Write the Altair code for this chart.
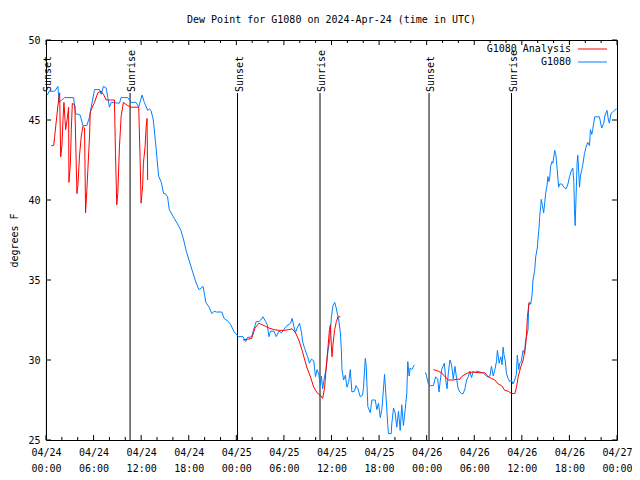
import altair as alt
import pandas as pd

TITLE = "Dew Point for G1080 on 2024-Apr-24 (time in UTC)"
FONT = "DejaVu Sans Mono"

# time = hours since 2024-04-24 00:00 UTC, value = dew point (deg F)
obs_part1 = [
    (0.18, 46.56), (0.38, 46.8), (1.09, 46.8), (1.51, 47.1), (1.63, 46.1), (2.10, 46.3), (2.35, 46.4),
    (3.48, 46.4), (3.73, 45.4), (4.32, 45.3), (4.65, 44.65), (5.15, 44.65), (5.49, 45.2), (5.70, 45.8),
    (6.12, 46.9), (6.75, 46.9), (6.96, 46.6), (7.25, 47.1), (7.59, 47.0), (7.79, 46.4), (8.00, 45.8),
    (8.22, 46.1), (9.26, 46.05), (9.47, 46.4), (10.30, 46.4), (10.73, 46.1), (11.36, 46.1), (11.69, 45.8),
    (12.11, 46.56), (12.40, 46.1), (12.82, 45.6), (13.03, 45.7), (13.24, 45.6), (13.53, 45.0), (13.87, 43.3),
    (14.20, 41.5), (14.54, 41.1), (14.83, 40.4), (15.04, 40.4), (15.33, 40.2), (15.54, 39.4), (16.17, 38.85),
    (16.59, 38.5), (17.01, 38.1), (17.31, 37.6), (17.69, 36.8), (18.06, 36.2), (18.43, 35.6), (18.81, 35.0),
    (19.19, 34.5), (19.31, 34.4), (19.81, 34.6), (20.16, 33.6), (20.57, 33.3), (20.91, 32.9), (21.20, 33.05),
    (21.49, 33.0), (22.17, 33.0), (22.46, 32.6), (23.00, 32.4), (23.30, 32.2), (23.71, 31.77), (24.25, 31.46),
    (24.84, 31.46), (25.18, 31.15), (25.38, 31.4), (25.94, 31.46), (26.10, 31.77), (26.51, 32.4), (26.85, 32.4),
    (27.07, 32.5), (27.36, 32.7), (27.70, 32.4), (27.90, 32.2), (28.11, 31.46), (28.32, 31.8), (28.74, 31.8),
    (29.03, 31.46), (29.37, 31.8), (29.71, 31.7), (30.00, 31.9), (30.28, 32.1), (30.84, 32.3), (31.04, 32.6),
    (31.25, 32.1), (31.46, 31.7), (31.66, 32.0), (31.97, 32.3), (32.22, 31.7), (32.38, 31.1), (32.63, 30.7),
    (32.92, 30.3), (33.22, 29.8), (33.47, 30.05), (33.76, 29.95), (33.98, 28.95), (34.18, 29.4), (34.39, 29.1),
    (34.60, 28.4), (34.73, 29.0), (34.89, 28.2), (35.14, 29.0), (35.31, 29.4), (35.56, 30.6), (35.78, 31.25),
    (35.99, 32.7), (36.19, 33.4), (36.40, 33.6), (36.57, 33.3), (36.82, 32.7), (36.91, 32.5), (37.12, 31.7),
    (37.25, 30.6), (37.32, 29.4), (37.53, 28.75), (37.75, 29.05), (37.95, 28.3), (38.16, 28.6), (38.37, 29.4),
    (38.57, 28.0), (38.91, 28.05), (39.08, 28.4), (39.33, 28.2), (39.63, 27.7), (39.92, 27.8), (40.04, 28.3),
    (40.26, 30.1), (40.38, 29.6), (40.58, 27.1), (40.89, 26.7), (41.09, 27.5), (41.52, 27.5), (41.72, 26.9),
    (41.93, 27.3), (42.15, 26.4), (42.35, 26.9), (42.69, 29.1), (42.90, 27.5), (43.10, 25.9), (43.19, 25.4),
    (43.53, 25.4), (43.60, 26.0), (43.82, 27.0), (44.03, 26.7), (44.23, 25.8), (44.45, 26.8), (44.66, 25.6),
    (44.86, 27.2), (45.07, 25.9), (45.29, 26.9), (45.49, 27.9), (45.62, 29.9), (45.79, 29.0), (45.92, 29.5),
    (46.12, 29.4), (46.46, 29.7),
]
obs_part2 = [
    (47.80, 29.2), (47.88, 29.2), (48.22, 28.5), (48.47, 28.4), (48.85, 28.4), (49.13, 28.95), (49.39, 28.8),
    (49.56, 28.0), (49.69, 28.6), (49.89, 29.4), (50.23, 29.8), (50.44, 28.6), (50.57, 28.2), (50.73, 29.2),
    (50.94, 30.0), (51.14, 29.7), (51.36, 28.8), (51.57, 29.6), (51.77, 28.85), (51.98, 28.2), (52.19, 28.0),
    (52.40, 27.9), (52.61, 27.9), (52.83, 28.2), (53.03, 28.75), (53.24, 28.95), (53.45, 29.3), (53.66, 28.9),
    (53.87, 29.3), (54.08, 29.2), (54.28, 29.3), (54.71, 29.25), (55.13, 29.2), (55.54, 29.0), (55.76, 28.95),
    (55.97, 29.0), (56.17, 29.6), (56.39, 29.0), (56.60, 29.4), (56.80, 29.9), (56.92, 30.6), (57.14, 29.8),
    (57.35, 30.2), (57.51, 29.7), (57.64, 30.8), (57.76, 30.3), (57.93, 29.9), (58.05, 29.2), (58.26, 28.85),
    (58.48, 28.65), (58.68, 28.75), (58.89, 28.5), (59.10, 28.75), (59.31, 29.1), (59.43, 30.3), (59.61, 29.4),
    (59.73, 29.8), (59.93, 29.9), (60.15, 30.6), (60.36, 30.4), (60.44, 31.1), (60.61, 31.5), (60.78, 31.9),
    (60.87, 33.5), (61.12, 33.5), (61.28, 34.0), (61.41, 35.0), (61.62, 35.6), (61.75, 36.45), (61.95, 37.0),
    (62.04, 37.56), (62.16, 38.2), (62.25, 38.96), (62.38, 39.6), (62.45, 40.04), (62.58, 39.7), (62.75, 39.2),
    (62.88, 39.8), (63.00, 40.4), (63.17, 40.9), (63.29, 41.46), (63.42, 41.15), (63.51, 41.35), (63.63, 42.1),
    (63.80, 42.4), (63.92, 42.3), (64.14, 43.1), (64.26, 42.9), (64.34, 42.6), (64.46, 41.9), (64.64, 40.8),
    (64.76, 41.0), (65.05, 41.0), (65.30, 40.8), (65.59, 40.7), (65.81, 41.0), (66.02, 41.46), (66.22, 41.8),
    (66.43, 42.0), (66.56, 41.1), (66.64, 39.4), (66.72, 38.4), (66.84, 40.2), (66.97, 42.3), (67.05, 42.8),
    (67.14, 42.1), (67.27, 40.8), (67.39, 41.5), (67.56, 41.9), (67.68, 42.2), (67.90, 42.9), (68.10, 43.3),
    (68.31, 43.6), (68.53, 43.4), (68.65, 44.4), (68.82, 44.1), (68.94, 44.4), (69.19, 45.2), (69.78, 45.2),
    (70.07, 44.5), (70.33, 44.8), (70.49, 45.3), (70.74, 45.6), (70.92, 45.0), (71.04, 44.8), (71.24, 45.4),
    (71.46, 45.5), (71.67, 45.6), (71.96, 45.7),
]
ana_night1 = [
    (0.68, 43.4), (0.97, 43.4), (1.09, 43.96), (1.31, 45.0), (1.51, 45.94), (1.72, 46.7), (1.85, 42.7),
    (2.01, 43.4), (2.14, 45.0), (2.26, 46.1), (2.48, 44.4), (2.69, 45.1), (2.85, 45.8), (2.89, 41.1),
    (3.07, 42.2), (3.19, 44.4), (3.32, 46.04), (3.48, 46.0), (3.64, 45.9), (3.90, 40.4), (4.02, 40.9),
    (4.23, 42.8), (4.45, 44.0), (4.65, 44.6), (4.86, 44.5), (4.99, 39.2), (5.15, 40.6), (5.28, 41.9),
    (5.49, 44.0), (5.58, 45.5), (5.83, 45.8), (6.12, 46.1), (6.53, 46.7), (6.96, 46.8), (7.25, 46.6),
    (7.59, 46.25), (8.00, 46.25), (8.63, 46.25), (8.76, 42.9), (8.92, 39.7), (9.05, 40.4), (9.26, 43.3),
    (9.47, 45.2), (9.76, 46.1), (10.30, 45.9), (10.73, 45.8), (11.36, 45.8), (11.69, 45.8), (11.86, 42.7),
    (11.99, 39.8), (12.19, 40.9), (12.28, 42.3), (12.49, 43.3), (12.62, 44.5), (12.74, 45.1), (12.82, 41.25),
]
ana_night2 = [
    (24.84, 31.25), (25.38, 31.3), (25.94, 31.35), (26.35, 32.0), (26.85, 32.3), (27.27, 32.2), (27.70, 32.1),
    (28.11, 32.0), (28.74, 31.9), (29.37, 31.85), (30.00, 31.85), (30.63, 31.9), (31.04, 31.95), (31.46, 31.7),
    (31.88, 31.25), (32.30, 30.6), (32.63, 30.0), (32.92, 29.5), (33.34, 28.95), (33.76, 28.3), (34.18, 27.95),
    (34.60, 27.8), (34.89, 27.6), (35.14, 28.3), (35.31, 29.4), (35.56, 30.8), (35.74, 31.9), (35.86, 32.2),
    (35.99, 30.8), (36.07, 30.2), (36.19, 31.0), (36.40, 31.9), (36.61, 32.4), (36.82, 32.7), (37.12, 32.7),
]
ana_night3 = [
    (48.85, 29.4), (49.47, 29.3), (49.89, 29.2), (50.31, 28.95), (50.73, 28.75), (51.36, 28.75), (51.77, 28.8),
    (52.19, 28.8), (52.40, 28.95), (52.83, 29.1), (53.24, 29.2), (53.87, 29.25), (54.71, 29.2), (55.34, 29.2),
    (55.76, 28.95), (56.17, 28.85), (56.60, 28.75), (57.02, 28.5), (57.44, 28.4), (57.86, 28.1), (58.28, 28.05),
    (58.70, 27.9), (59.12, 27.9), (59.33, 28.3), (59.54, 28.95), (59.88, 29.6), (60.17, 30.0), (60.38, 30.6),
    (60.50, 31.0), (60.60, 31.7), (60.70, 32.7), (60.92, 33.6), (61.12, 33.5),
]

sun_hours = [0.05, 10.6, 24.15, 34.55, 48.3, 58.7]
sun_labels = ["Sunset", "Sunrise", "Sunset", "Sunrise", "Sunset", "Sunrise"]

y_ticks = [25, 30, 35, 40, 45, 50]
x_major = list(range(0, 73, 6))
x_minor = [h for h in range(0, 73, 2) if h % 6 != 0]

series_names = ["G1080 Analysis", "G1080"]
series_colors = ["#ff0000", "#0080ff"]


def frame(points, seg):
    return pd.DataFrame({"h": [p[0] for p in points], "v": [p[1] for p in points], "seg": seg})


obs_df = pd.concat([frame(obs_part1, 1), frame(obs_part2, 2)])
ana_df = pd.concat([frame(ana_night1, 1), frame(ana_night2, 2), frame(ana_night3, 3)])
sun_df = pd.DataFrame({"h": sun_hours, "label": sun_labels})
xmaj_df = pd.DataFrame({"h": x_major})
xmin_df = pd.DataFrame({"h": x_minor})
yt_df = pd.DataFrame({"v": y_ticks})
one = pd.DataFrame({"k": [0]})

W, H = 571, 400

xscale = alt.Scale(domain=[0, 72], nice=False, zero=False)
yscale = alt.Scale(domain=[25, 50], nice=False, zero=False)

label_expr = ("['04/' + (24 + floor(datum.value / 24)), "
              "(datum.value % 24 < 10 ? '0' : '') + (datum.value % 24) + ':00']")

X = alt.X("h:Q", scale=xscale, title=None,
          axis=alt.Axis(values=x_major, labelExpr=label_expr, ticks=False, domain=False, grid=False,
                        labelFont=FONT, labelFontSize=10, labelColor="black", labelPadding=7,
                        labelLineHeight=16, labelFlush=False, labelOverlap=False))
Y = alt.Y("v:Q", scale=yscale, title="degrees F",
          axis=alt.Axis(values=y_ticks, ticks=False, domain=False, grid=False,
                        labelFont=FONT, labelFontSize=10, labelColor="black", labelPadding=6,
                        labelFlush=False, titleFont=FONT, titleFontSize=10, titleFontWeight="normal",
                        titleColor="black", titleX=-32, titleY=200, titleAlign="center",
                        titleBaseline="middle", titleAngle=270))

sun_lines = alt.Chart(sun_df).mark_rule(color="black", strokeWidth=1).encode(
    x=X, y=alt.value(53), y2=alt.value(H))
sun_text = alt.Chart(sun_df).mark_text(
    angle=270, align="left", baseline="middle", dy=2, font=FONT, fontSize=10, color="black"
).encode(x=X, y=alt.value(52), text="label:N")

obs_line = alt.Chart(obs_df).mark_line(color=series_colors[1], strokeWidth=1).encode(
    x=X, y=Y, detail="seg:N")
ana_line = alt.Chart(ana_df).mark_line(color=series_colors[0], strokeWidth=1).encode(
    x=X, y=Y, detail="seg:N")

tick_style = dict(color="black", strokeWidth=1)
xb_major = alt.Chart(xmaj_df).mark_rule(**tick_style).encode(x=X, y=alt.value(H), y2=alt.value(H - 5))
xt_major = alt.Chart(xmaj_df).mark_rule(**tick_style).encode(x=X, y=alt.value(0), y2=alt.value(5))
xb_minor = alt.Chart(xmin_df).mark_rule(**tick_style).encode(x=X, y=alt.value(H), y2=alt.value(H - 3))
xt_minor = alt.Chart(xmin_df).mark_rule(**tick_style).encode(x=X, y=alt.value(0), y2=alt.value(3))
yl_ticks = alt.Chart(yt_df).mark_rule(**tick_style).encode(y=Y, x=alt.value(0), x2=alt.value(5))
yr_ticks = alt.Chart(yt_df).mark_rule(**tick_style).encode(y=Y, x=alt.value(W), x2=alt.value(W - 5))

title_text = alt.Chart(one).mark_text(
    align="center", baseline="alphabetic", font=FONT, fontSize=10, color="black"
).encode(x=alt.value(W / 2), y=alt.value(-17), text=alt.value(TITLE))

leg = []
for i, (name, col) in enumerate(zip(series_names, series_colors)):
    yy = 9 + 13 * i
    leg.append(alt.Chart(one).mark_text(align="right", baseline="middle", font=FONT, fontSize=10,
                                        color="black").encode(
        x=alt.value(W - 46), y=alt.value(yy), text=alt.value(name)))
    leg.append(alt.Chart(one).mark_rule(color=col, strokeWidth=1).encode(
        x=alt.value(W - 39), x2=alt.value(W - 10), y=alt.value(yy)))

chart = alt.layer(
    sun_lines, sun_text, obs_line, ana_line,
    xb_major, xt_major, xb_minor, xt_minor, yl_ticks, yr_ticks, title_text, *leg
).properties(
    width=W, height=H,
    autosize=alt.AutoSizeParams(type="none"),
    padding={"left": 38, "top": 32, "right": 15, "bottom": 36},
    background="white",
).configure_view(stroke="black", strokeWidth=1)

chart.save("out.html", embed_options={"renderer": "svg", "actions": False})
